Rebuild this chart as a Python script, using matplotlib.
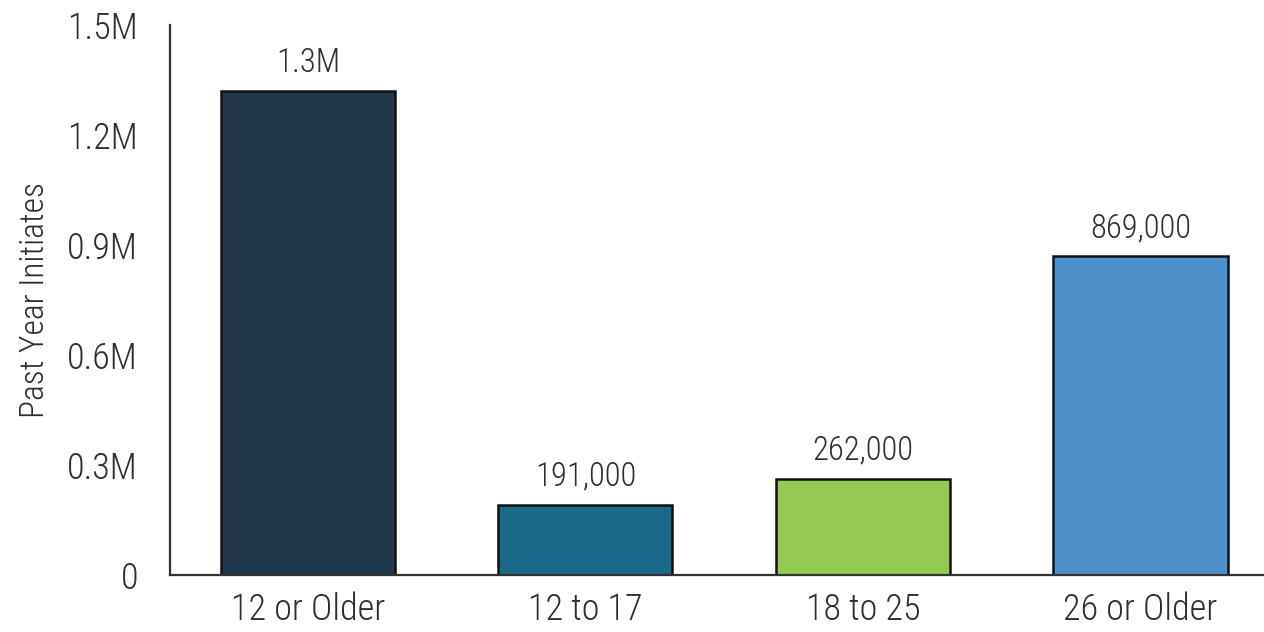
import matplotlib
matplotlib.use("Agg")
import matplotlib.pyplot as plt

categories = ["12 or Older", "12 to 17", "18 to 25", "26 or Older"]
initiates = [1320000, 191000, 262000, 869000]
value_labels = ["1.3M", "191,000", "262,000", "869,000"]
bar_colors = ["#1F3749", "#1C6A8A", "#96C952", "#4E90CC"]
y_ticks = [0, 300000, 600000, 900000, 1200000, 1500000]
y_tick_labels = ["0", "0.3M", "0.6M", "0.9M", "1.2M", "1.5M"]

plt.rcParams["font.family"] = ["Roboto Condensed", "Archivo Narrow", "DejaVu Sans"]
plt.rcParams["font.weight"] = "light"
plt.rcParams["axes.labelweight"] = "light"

text_color = "#2E2E2E"

fig = plt.figure(figsize=(12.64, 6.32), dpi=100)
ax = fig.add_axes([170 / 1264, 1 - 575 / 632, (1264 - 170) / 1264, (575 - 25) / 632])

x = list(range(len(categories)))
ax.bar(x, initiates, width=0.627, color=bar_colors, edgecolor="#111111", linewidth=1.8, zorder=2)

for xi, v, lab in zip(x, initiates, value_labels):
    ax.text(xi, v + 33000, lab, ha="center", va="bottom", fontsize=23.5, color=text_color)

ax.set_xlim(-0.497, 3.445)
ax.set_ylim(0, 1500000)
ax.set_xticks(x)
ax.set_xticklabels(categories, fontsize=26, color=text_color)
ax.set_yticks(y_ticks)
ax.set_yticklabels(y_tick_labels, fontsize=26, color=text_color)
ax.tick_params(axis="both", length=0)
ax.tick_params(axis="x", pad=12)
ax.tick_params(axis="y", pad=23)

for side in ("top", "right"):
    ax.spines[side].set_visible(False)
for side in ("left", "bottom"):
    ax.spines[side].set_color("#333333")
    ax.spines[side].set_linewidth(1.6)

ax.set_ylabel("Past Year Initiates", fontsize=24, fontweight="light", color=text_color, labelpad=12)

fig.savefig("out.png", dpi=100)
